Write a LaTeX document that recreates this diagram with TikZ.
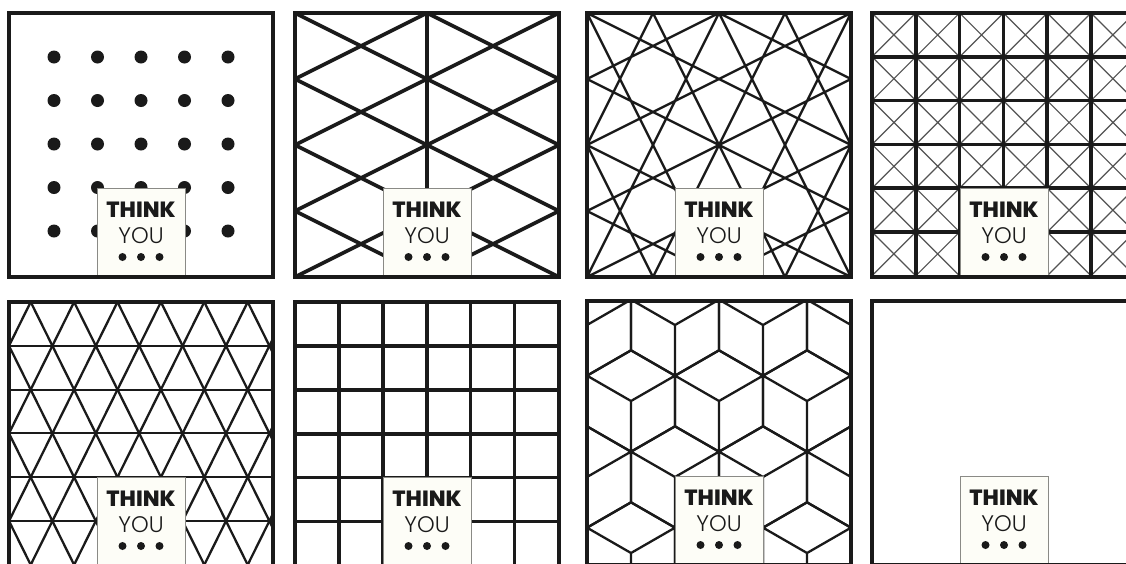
\documentclass[tikz,border=0pt]{standalone}
\usepackage{fontspec}
\setmainfont{Poppins}[BoldFont=* ExtraBold]
\newfontfamily\youfont{Poppins}[UprightFont=* Light]
\definecolor{ink}{HTML}{1A1A1A}
\definecolor{card}{HTML}{FDFDF7}
\definecolor{cardrim}{HTML}{8A8A86}
\tikzset{
  frame/.style={draw=ink,line width=4},
  heavyline/.style={draw=ink,line width=3.6},
  midline/.style={draw=ink,line width=2.3},
  hairline/.style={draw=ink!75,line width=1.2},
  cardbox/.style={fill=card,draw=cardrim,line width=0.9},
  thinkword/.style={inner sep=0pt,font=\fontsize{22}{22}\selectfont\bfseries,text=ink},
  youword/.style={inner sep=0pt,font=\fontsize{22.5}{22.5}\selectfont\youfont,text=ink}
}
\newcommand\thinkcard[1]{%
  \path[cardbox] (88,175) rectangle (176,264);
  \node[thinkword] (#1think) at (132,197) {THINK};
  \node[youword] (#1you) at (132,223) {YOU};
  \foreach \d in {-1,0,1} \fill[ink] (132+18.5*\d,244) circle (4pt);
}

\begin{document}
\begin{tikzpicture}[x=1pt,y=-1pt]
\useasboundingbox (0,0) rectangle (1126,563);
\clip (0,0) rectangle (1126,563);
\fill[white] (0,0) rectangle (1126,563);

\begin{scope}[shift={(9,13)}]
\foreach \i in {0,...,4} \foreach \j in {0,...,4}
  \fill[ink] (132+43.5*\i-87,131+43.5*\j-87) circle (6.5pt);
\thinkcard{dots}
\draw[frame] (0,0) rectangle (264,264);
\end{scope}

\begin{scope}[shift={(295,13)}]
\begin{scope}
\clip (0,0) rectangle (264,264);
\foreach \c in {-132,-66,...,264} \draw[heavyline] (0,\c) -- (264,\c+132);
\foreach \c in {0,66,...,396} \draw[heavyline] (0,\c) -- (264,\c-132);
\draw[heavyline] (132,0) -- (132,264);
\end{scope}
\thinkcard{zigzag}
\draw[frame] (0,0) rectangle (264,264);
\end{scope}

\begin{scope}[shift={(587,13)}]
\begin{scope}
\clip (0,0) rectangle (264,264);
\foreach \qx in {0,132} \foreach \qy in {0,132} {
  \begin{scope}[shift={(\qx,\qy)}]
  \draw[midline] (0,0) -- (132,66) (66,0) -- (132,132) (132,0) -- (66,132)
    (132,66) -- (0,132) (132,132) -- (0,66) (66,132) -- (0,0)
    (0,132) -- (66,0) (0,66) -- (132,0);
  \end{scope}
}
\end{scope}
\thinkcard{stars}
\draw[frame] (0,0) rectangle (264,264);
\end{scope}

\begin{scope}[shift={(872,13)}]
\begin{scope}
\clip (0,0) rectangle (264,264);
\foreach \i in {0,...,5} \foreach \j in {0,...,5}
  \draw[hairline] (43.8*\i,43.8*\j) -- (43.8*\i+43.8,43.8*\j+43.8)
    (43.8*\i+43.8,43.8*\j) -- (43.8*\i,43.8*\j+43.8);
\foreach \k in {1,...,5} \draw[heavyline] (43.8*\k,0) -- (43.8*\k,264) (0,43.8*\k) -- (264,43.8*\k);
\end{scope}
\thinkcard{crosses}
\draw[frame] (0,0) rectangle (264,264);
\end{scope}

\begin{scope}[shift={(9,302)}]
\begin{scope}
\clip (0,0) rectangle (264,264);
\foreach \m in {1,...,5} \draw[midline,line width=2] (0,43.8*\m) -- (264,43.8*\m);
\foreach \j in {-4,...,6} \draw[midline] (21.7+43.4*\j,0) -- (21.7+43.4*\j+151.9,306.6);
\foreach \j in {0,...,10} \draw[midline] (21.7+43.4*\j,0) -- (21.7+43.4*\j-151.9,306.6);
\end{scope}
\thinkcard{triangles}
\draw[frame] (0,0) rectangle (264,264);
\end{scope}

\begin{scope}[shift={(295,302)}]
\foreach \k in {1,...,5} \draw[heavyline] (43.9*\k,0) -- (43.9*\k,264) (0,43.9*\k) -- (264,43.9*\k);
\thinkcard{squares}
\draw[frame] (0,0) rectangle (264,264);
\end{scope}

\begin{scope}[shift={(587,301)}]
\begin{scope}
\clip (0,0) rectangle (264,264);
\foreach \r in {-1,...,3} \foreach \k in {-1,...,3} {
  \pgfmathsetmacro\cx{88*\k+44*mod(\r+2,2)}
  \pgfmathsetmacro\cy{24+76*\r}
  \draw[midline] (\cx,\cy-50.7) -- (\cx+44,\cy-25.35) -- (\cx+44,\cy+25.35)
    -- (\cx,\cy+50.7) -- (\cx-44,\cy+25.35) -- (\cx-44,\cy-25.35) -- cycle
    (\cx,\cy) -- (\cx-44,\cy-25.35) (\cx,\cy) -- (\cx+44,\cy-25.35)
    (\cx,\cy) -- (\cx,\cy+50.7);
}
\end{scope}
\thinkcard{cubes}
\draw[frame] (0,0) rectangle (264,264);
\end{scope}

\begin{scope}[shift={(872,301)}]
\thinkcard{blank}
\draw[frame] (0,0) rectangle (264,264);
\end{scope}
\end{tikzpicture}
\end{document}
